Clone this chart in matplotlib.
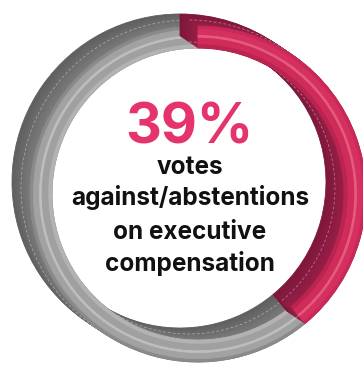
import matplotlib
matplotlib.use("Agg")
import matplotlib.pyplot as plt
from matplotlib.patches import Arc
from matplotlib.colors import to_rgb

# vote split on executive compensation
labels = ["against/abstentions", "for"]
shares = [39, 61]
headline = "39%"
caption = ["votes", "against/abstentions", "on executive", "compensation"]

W, H = 363, 365
cx, cy = 198, 171          # centre of the ring's front face (pixels)
r_out, ring_w = 168, 22
depth = (-18, 12)          # shift of the back of the ring -> visible walls
steps = 14

# wall colours (far, near) and face bands (outer -> inner, relative widths)
wall_cols = {"pink": ("#7e173b", "#981f48"), "gray": ("#5f5f5f", "#7b7b7b")}
face_bands = [0.15, 0.28, 0.12, 0.30, 0.15]
face_cols = {
    "pink": ["#c8285a", "#d6305f", "#e65a82", "#cf2c5a", "#bb2451"],
    "gray": ["#8a8a8a", "#a2a2a2", "#bebebe", "#a0a0a0", "#b3b3b3"],
}
z_base = {"pink": 3, "gray": 1}


def mix(c1, c2, t):
    a, b = to_rgb(c1), to_rgb(c2)
    return tuple(a[i] + (b[i] - a[i]) * t for i in range(3))


def ring(ax, center, radius, width, colors, zorders):
    wedges, _ = ax.pie(shares, radius=radius, center=center, startangle=90,
                       counterclock=False, colors=colors,
                       wedgeprops=dict(width=width, linewidth=0.6))
    for w, z in zip(wedges, zorders):
        w.set_edgecolor(w.get_facecolor())
        w.set_zorder(z)
    return wedges


fig = plt.figure(figsize=(W / 100, H / 100), dpi=100)
ax = fig.add_axes([0, 0, 1, 1])

keys = ["pink", "gray"]

# side walls: sweep the ring from the back towards the front face
for k in range(steps + 1):
    t = k / steps
    c = (cx + depth[0] * (1 - t), cy + depth[1] * (1 - t))
    cols = [mix(wall_cols[key][0], wall_cols[key][1], t) for key in keys]
    ring(ax, c, r_out, ring_w, cols, [z_base[key] for key in keys])

# thin seam lines running along the walls
angles = [90]
for s in shares:
    angles.append(angles[-1] - 360 * s / sum(shares))
mid = (cx + depth[0] / 2, cy + depth[1] / 2)
for i, key in enumerate(keys):
    for rad in (r_out, r_out - ring_w):
        ax.add_patch(Arc(mid, 2 * rad, 2 * rad, theta1=angles[i + 1],
                         theta2=angles[i], color="white", lw=0.5,
                         ls=(0, (4, 3)), alpha=0.45,
                         zorder=z_base[key] + 0.5))

# front face in concentric bands
rad = r_out
for j, frac in enumerate(face_bands):
    bw = ring_w * frac
    cols = [face_cols[key][j] for key in keys]
    ring(ax, (cx, cy), rad, bw, cols, [z_base[key] + 0.7 for key in keys])
    rad -= bw

font = ["Inter", "DejaVu Sans"]
ax.text(189, 221, headline, ha="center", va="baseline", fontsize=40,
        fontweight="bold", color="#e5336b", family=font, zorder=6)
for line, base in zip(caption, [191, 160, 126, 94]):
    ax.text(190, base, line, ha="center", va="baseline", fontsize=17.5,
            fontweight="bold", color="#111111", family=font, zorder=6)

ax.set_xlim(0, W)
ax.set_ylim(0, H)
ax.set_aspect("equal")
ax.axis("off")
fig.savefig("out.png", dpi=100)
